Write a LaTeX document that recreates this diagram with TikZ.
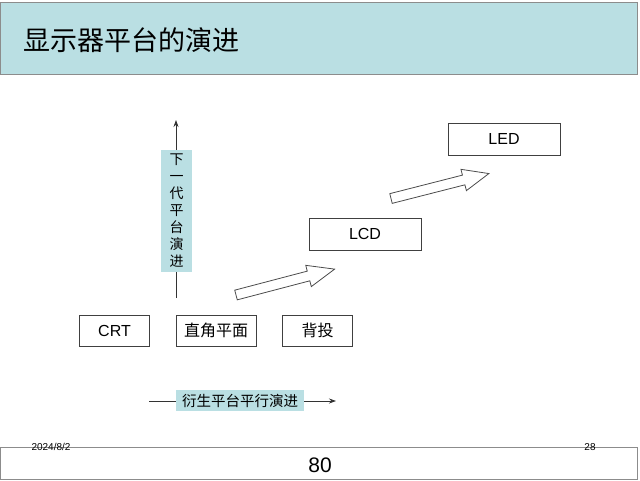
\documentclass[tikz,border=0pt]{standalone}
\usepackage{fontspec}
\setmainfont{Liberation Sans}
\newfontfamily\cjk{Noto Sans CJK SC}
\usetikzlibrary{arrows.meta}
\definecolor{band}{HTML}{BADFE3}
\definecolor{frameg}{HTML}{8C8C8C}
\tikzset{
  box/.style={draw=black!75, line width=0.8pt, minimum width=70pt, minimum height=31pt, inner sep=0pt, font=\fontsize{16}{18}\selectfont},
  wbox/.style={box, minimum width=112pt, minimum height=32pt},
  lbl/.style={fill=band, inner sep=0pt, font=\cjk\fontsize{14}{17}\selectfont},
  flow/.style={draw=black!80, line width=0.8pt, -{Stealth[length=7pt,width=5pt]}},
  blockarrow/.style={draw=black!70, line width=0.8pt, fill=white}
}
\begin{document}
\begin{tikzpicture}[x=1pt,y=-1pt]
\useasboundingbox (0,0) rectangle (640,480);
% title band
\draw[frameg, fill=band, line width=1pt] (0.5,2) rectangle (637,74);
\node[anchor=west, font=\cjk\fontsize{27}{30}\selectfont, inner sep=0pt] (title) at (23,40) {显示器平台的演进};
% boxes
\node[box] (crt) at (114.5,330.5) {CRT};
\node[box, minimum width=80pt, font=\cjk\fontsize{16}{18}\selectfont] (zj) at (216,330.5) {直角平面};
\node[box, font=\cjk\fontsize{16}{18}\selectfont] (bt) at (317.5,330.5) {背投};
\node[wbox] (lcd) at (365,234) {LCD};
\node[wbox] (led) at (504,139) {LED};
% vertical arrow
\coordinate (vb) at (176,298);
\coordinate (vt) at (176,120);
\draw[flow] (vb) -- (vt);
\node[lbl, minimum width=31pt, minimum height=122pt, align=center] (vl) at (176.5,211) {下\\一\\代\\平\\台\\演\\进};
% horizontal arrow
\coordinate (hl) at (149,401);
\coordinate (hr) at (336,401);
\draw[flow] (hl) -- (hr);
\node[lbl, minimum width=128pt, minimum height=21pt, font=\cjk\fontsize{14.5}{17}\selectfont] (hlb) at (240,400.5) {衍生平台平行演进};
% block arrows
\begin{scope}[shift={(236,295)}, rotate=14.7]
\draw[blockarrow] (0,-5) -- (75,-5) -- (75,-11) -- (102,0) -- (75,11) -- (75,5) -- (0,5) -- cycle;
\end{scope}
\begin{scope}[shift={(391,198.5)}, rotate=14.3]
\draw[blockarrow] (0,-5) -- (75,-5) -- (75,-11) -- (101,0) -- (75,11) -- (75,5) -- (0,5) -- cycle;
\end{scope}
% footer
\draw[frameg, line width=1pt] (0.5,447) rectangle (637,479);
\node[font=\fontsize{10}{12}\selectfont, inner sep=0pt] (date) at (51,447) {2024/8/2};
\node[font=\fontsize{10}{12}\selectfont, inner sep=0pt] (pg) at (590,447) {28};
\node[font=\fontsize{21}{24}\selectfont, inner sep=0pt] (num) at (320,465) {80};
\end{tikzpicture}
\end{document}
